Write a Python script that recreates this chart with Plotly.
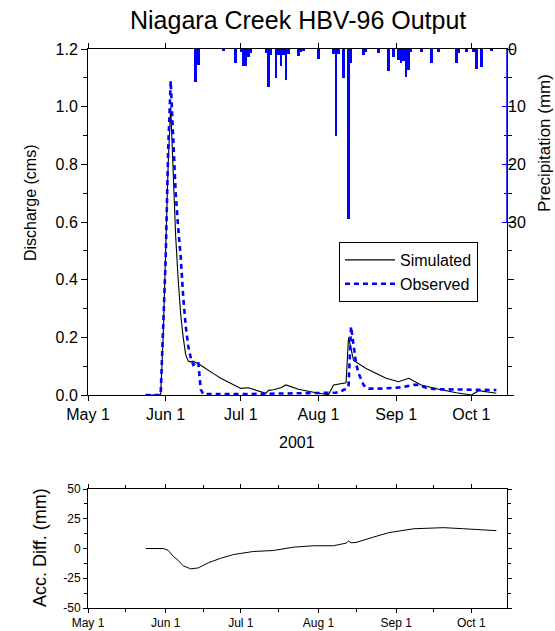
import plotly.graph_objects as go

# ---------------- data ----------------
obs_dates = ["2001-05-24", "2001-05-29", "2001-05-30", "2001-06-01", "2001-06-02", "2001-06-03",
             "2001-06-04", "2001-06-05", "2001-06-06", "2001-06-07", "2001-06-08", "2001-06-09",
             "2001-06-10", "2001-06-11", "2001-06-12", "2001-06-13", "2001-06-14", "2001-06-15",
             "2001-06-16", "2001-07-01", "2001-07-15", "2001-08-01", "2001-08-08", "2001-08-10",
             "2001-08-11", "2001-08-12", "2001-08-13", "2001-08-14", "2001-08-15", "2001-08-16",
             "2001-08-17", "2001-08-18", "2001-08-19", "2001-08-20", "2001-08-21", "2001-08-25",
             "2001-09-01", "2001-09-05", "2001-09-08", "2001-09-10", "2001-09-13", "2001-09-17",
             "2001-09-25", "2001-10-01", "2001-10-05", "2001-10-11"]
obs_vals = [0.0, 0.0, 0.0, 0.47, 0.85, 1.09,
            0.87, 0.70, 0.58, 0.48, 0.34, 0.24,
            0.17, 0.13, 0.105, 0.11, 0.115, 0.02,
            0.003, 0.003, 0.005, 0.007, 0.008, 0.012,
            0.018, 0.02, 0.03, 0.237, 0.17, 0.11,
            0.075, 0.055, 0.035, 0.026, 0.022, 0.022,
            0.025, 0.03, 0.035, 0.035, 0.025, 0.02,
            0.02, 0.02, 0.018, 0.017]

sim_dates = ["2001-05-24", "2001-05-29", "2001-05-30", "2001-05-31", "2001-06-01", "2001-06-02",
             "2001-06-03", "2001-06-04", "2001-06-05", "2001-06-06", "2001-06-07", "2001-06-08",
             "2001-06-09", "2001-06-10", "2001-06-11", "2001-06-12", "2001-06-13", "2001-06-14",
             "2001-06-15", "2001-06-21", "2001-06-23", "2001-07-01", "2001-07-04", "2001-07-11",
             "2001-07-12", "2001-07-14", "2001-07-17", "2001-07-19", "2001-07-24", "2001-07-31",
             "2001-08-05", "2001-08-07", "2001-08-09", "2001-08-11", "2001-08-12", "2001-08-13",
             "2001-08-15", "2001-08-20", "2001-08-28", "2001-09-02", "2001-09-06", "2001-09-11",
             "2001-09-18", "2001-09-25", "2001-10-01", "2001-10-04", "2001-10-11"]
sim_vals = [0.0, 0.0, 0.0, 0.2, 0.5, 0.8,
            1.0, 0.78, 0.55, 0.40, 0.28, 0.20,
            0.14, 0.118, 0.115, 0.118, 0.112, 0.108,
            0.103, 0.069, 0.058, 0.023, 0.025, 0.006,
            0.016, 0.018, 0.025, 0.035, 0.02, 0.008,
            0.001, 0.035, 0.037, 0.04, 0.042, 0.2,
            0.12, 0.092, 0.058, 0.046, 0.058, 0.035,
            0.02, 0.008, 0.0, 0.015, 0.006]

precip_dates = ["2001-06-13", "2001-06-14", "2001-06-24", "2001-06-29", "2001-07-01", "2001-07-02",
                "2001-07-03", "2001-07-04", "2001-07-05", "2001-07-11", "2001-07-12", "2001-07-13",
                "2001-07-15", "2001-07-16", "2001-07-17", "2001-07-18", "2001-07-19", "2001-07-20",
                "2001-07-24", "2001-07-25", "2001-07-26", "2001-08-01", "2001-08-07", "2001-08-08",
                "2001-08-09", "2001-08-11", "2001-08-13", "2001-08-14", "2001-08-19", "2001-08-20",
                "2001-08-25", "2001-08-29", "2001-08-31", "2001-09-02", "2001-09-03", "2001-09-04",
                "2001-09-05", "2001-09-06", "2001-09-07", "2001-09-11", "2001-09-15", "2001-09-18",
                "2001-09-25", "2001-09-26", "2001-09-29", "2001-10-02", "2001-10-03", "2001-10-05",
                "2001-10-09"]
precip_vals = [5.8, 2.8, 0.4, 2.4, 0.5, 2.9,
               2.9, 1.3, 0.7, 0.7, 6.6, 1.0,
               5.1, 1.0, 2.9, 1.0, 5.4, 0.9,
               1.2, 0.6, 0.4, 1.8, 0.9, 15.1,
               0.8, 5.1, 29.5, 2.5, 1.0, 0.5,
               0.7, 3.8, 1.3, 1.9, 2.5, 2.0,
               4.8, 3.6, 0.6, 0.6, 2.5, 0.5,
               2.4, 0.7, 0.5, 0.6, 3.4, 3.1,
               0.4]

acc_dates = ["2001-05-24", "2001-05-31", "2001-06-02", "2001-06-04", "2001-06-06", "2001-06-08",
             "2001-06-11", "2001-06-14", "2001-06-18", "2001-06-23", "2001-06-28", "2001-07-06",
             "2001-07-14", "2001-07-22", "2001-07-30", "2001-08-07", "2001-08-12", "2001-08-13",
             "2001-08-14", "2001-08-16", "2001-08-23", "2001-08-29", "2001-09-08", "2001-09-20",
             "2001-09-28", "2001-10-05", "2001-10-11"]
acc_vals = [0.0, 0.0, -1.5, -6.5, -10.0, -14.5,
            -17.1, -16.3, -12.0, -8.2, -5.1, -2.5,
            -1.7, 1.1, 2.3, 2.3, 4.5, 6.2,
            4.8, 5.1, 9.6, 13.3, 16.6, 17.5,
            16.6, 15.8, 15.0]

month_ticks = ["2001-05-01", "2001-06-01", "2001-07-01", "2001-08-01", "2001-09-01", "2001-10-01"]
month_labels = ["May 1", "Jun 1", "Jul 1", "Aug 1", "Sep 1", "Oct 1"]
mid_ticks = ["2001-05-16", "2001-06-16", "2001-07-16", "2001-08-16", "2001-09-16", "2001-10-16"]
precip_ticks = [0, 10, 20, 30]
precip_minor = [5, 15, 25]
acc_ticks = [-50, -25, 0, 25, 50]
acc_minor = [-37.5, -12.5, 12.5, 37.5]

# ---------------- figure ----------------
FONT = "Liberation Sans, Arial, sans-serif"
W, H = 555, 631
ML, MR, MT, MB = 88, 48, 49, 23
PW = W - ML - MR
PH = H - MT - MB


def px(xp):
    return (xp - ML) / PW


def py(yp):
    return (H - MB - yp) / PH


xrange = ["2001-05-01", "2001-10-15 06:00"]

fig = go.Figure()
fig.add_trace(go.Bar(x=precip_dates, y=precip_vals, yaxis="y2", xaxis="x",
                     marker=dict(color="#0000FF", line=dict(width=0)),
                     width=86400000 * 1.05, showlegend=False, hoverinfo="skip"))
fig.add_trace(go.Scatter(x=sim_dates, y=sim_vals, mode="lines", name="Simulated",
                         line=dict(color="black", width=1.1), xaxis="x", yaxis="y"))
fig.add_trace(go.Scatter(x=obs_dates, y=obs_vals, mode="lines", name="Observed",
                         line=dict(color="#0000FF", width=2.6, dash="5px,4px"), xaxis="x", yaxis="y"))
fig.add_trace(go.Scatter(x=acc_dates, y=acc_vals, mode="lines", showlegend=False,
                         line=dict(color="black", width=1), xaxis="x2", yaxis="y3"))

main_bottom = py(395)
lower_top = py(489)

axis_common = dict(showline=True, linecolor="black", linewidth=1, showgrid=False, zeroline=False,
                   mirror="ticks", tickcolor="black", automargin=False)

fig.update_layout(
    width=W, height=H,
    margin=dict(l=ML, r=MR, t=MT, b=MB, autoexpand=False),
    paper_bgcolor="white", plot_bgcolor="white",
    font=dict(family=FONT, size=16, color="black"),
    showlegend=True,
    legend=dict(x=px(339), y=py(242), xanchor="left", yanchor="top",
                bordercolor="black", borderwidth=1, bgcolor="white",
                font=dict(size=16, family=FONT), tracegroupgap=0, itemwidth=50),
    bargap=0,
    xaxis=dict(type="date", range=xrange, domain=[0, 1], anchor="y",
               tickvals=month_ticks, ticktext=month_labels, ticks="outside", ticklen=5,
               tickfont=dict(size=16), **axis_common),
    yaxis=dict(range=[0, 1.2], domain=[main_bottom, 1], anchor="x", dtick=0.2, tick0=0,
               tickformat=".1f", ticks="outside", ticklen=6,
               minor=dict(dtick=0.1, ticks="outside", ticklen=4, tickcolor="black", showgrid=False),
               tickfont=dict(size=16), **axis_common),
    yaxis2=dict(range=[60, 0], overlaying="y", side="right", anchor="x", automargin=False,
                tickvals=precip_ticks, ticktext=[str(v) for v in precip_ticks],
                ticks="inside", ticklen=5, tickcolor="#0000FF", showline=False, showgrid=False,
                zeroline=False, tickfont=dict(size=16, color="black"),
                minor=dict(tickvals=precip_minor, ticks="inside", ticklen=3, tickcolor="#0000FF",
                           showgrid=False)),
    xaxis2=dict(type="date", range=xrange, domain=[0, 1], anchor="y3",
                tickvals=month_ticks, ticktext=month_labels, ticks="outside", ticklen=4,
                tickfont=dict(size=12),
                minor=dict(tickvals=mid_ticks, ticks="outside", ticklen=3, tickcolor="black", showgrid=False),
                **axis_common),
    yaxis3=dict(range=[-50, 50], domain=[0, lower_top], anchor="x2",
                tickvals=acc_ticks, ticktext=[str(v) for v in acc_ticks], ticks="outside", ticklen=4,
                tickfont=dict(size=12),
                minor=dict(tickvals=acc_minor, ticks="outside", ticklen=3, tickcolor="black", showgrid=False),
                **axis_common),
    shapes=[dict(type="line", xref="paper", yref="y2", x0=1, x1=1, y0=0, y1=30,
                 line=dict(color="#0000FF", width=1.5), layer="above")],
    annotations=[
        dict(text="Niagara Creek HBV-96 Output", xref="paper", yref="paper", x=px(298), y=py(20),
             xanchor="center", yanchor="middle", showarrow=False, font=dict(size=25)),
        dict(text="2001", xref="paper", yref="paper", x=px(297), y=py(442),
             xanchor="center", yanchor="middle", showarrow=False, font=dict(size=16)),
        dict(text="Discharge (cms)", xref="paper", yref="paper", x=px(30), y=py(203),
             xanchor="center", yanchor="middle", showarrow=False, textangle=-90, font=dict(size=16)),
        dict(text="Precipitation (mm)", xref="paper", yref="paper", x=px(544), y=py(143),
             xanchor="center", yanchor="middle", showarrow=False, textangle=-90, font=dict(size=17)),
        dict(text="Acc. Diff. (mm)", xref="paper", yref="paper", x=px(40), y=py(548),
             xanchor="center", yanchor="middle", showarrow=False, textangle=-90, font=dict(size=18)),
    ],
)

fig.write_html("out.html")
